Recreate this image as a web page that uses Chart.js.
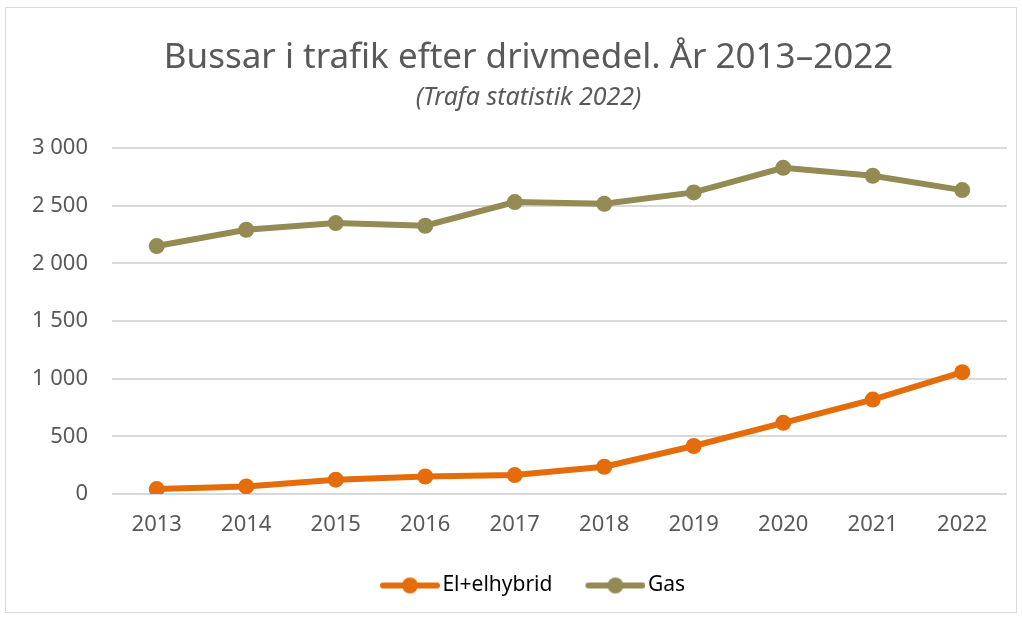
<!DOCTYPE html>
<html>
<head>
<meta charset="utf-8">
<script src="https://cdn.jsdelivr.net/npm/chart.js@4/dist/chart.umd.min.js"></script>
<style>
    html, body { margin: 0; padding: 0; background: #fff; }
    #frame { position: absolute; left: 5px; top: 7px; width: 1010px; height: 604px; border: 1px solid #d9d9d9; }
    #wrap { position: absolute; left: 0; top: 0; width: 1022px; height: 619px; }
</style>
</head>
<body>
<div id="frame"></div>
<div id="wrap"><canvas id="chart" width="1022" height="619"></canvas></div>
<script>
// Data
const years = ['2013', '2014', '2015', '2016', '2017', '2018', '2019', '2020', '2021', '2022'];
const elhybrid = [43, 66, 124, 152, 164, 236, 416, 617, 819, 1056];
const gas = [2150, 2291, 2349, 2326, 2531, 2516, 2615, 2828, 2759, 2635];
const seriesNames = ['El+elhybrid', 'Gas'];
const seriesColors = ['#e46c0a', '#948a54'];

const textColor = '#595959';
const fontFamily = '"Noto Sans", sans-serif';

// legend marker: a short line with a dot in the middle,
// shifted right inside the image so the label sits close to it
function legendMarker(color) {
    const c = document.createElement('canvas');
    c.width = 76;
    c.height = 18;
    const ctx = c.getContext('2d');
    ctx.strokeStyle = color;
    ctx.lineWidth = 6;
    ctx.lineCap = 'round';
    ctx.beginPath();
    ctx.moveTo(19, 9);
    ctx.lineTo(73, 9);
    ctx.stroke();
    ctx.fillStyle = color;
    ctx.beginPath();
    ctx.arc(46, 9, 8, 0, Math.PI * 2);
    ctx.fill();
    return c;
}

// title, subtitle and legend sit a bit right of the canvas centre in the original
const shiftBlocks = {
    id: 'shiftBlocks',
    afterLayout(chart) {
        chart.boxes.forEach((b) => {
            if (b.axis === undefined && (b.position === 'top' || b.position === 'bottom')) {
                b.left += 25;
                b.right += 25;
            }
        });
    }
};

const makeSet = (i, data) => ({
    label: seriesNames[i],
    data,
    borderColor: seriesColors[i],
    backgroundColor: seriesColors[i],
    borderWidth: 6,
    pointRadius: 8,
    pointHoverRadius: 8,
    pointBorderWidth: 0,
    tension: 0
});

new Chart(document.getElementById('chart'), {
    type: 'line',
    data: {
        labels: years,
        datasets: [makeSet(0, elhybrid), makeSet(1, gas)]
    },
    plugins: [shiftBlocks],
    options: {
        responsive: false,
        animation: false,
        layout: { padding: { left: 0, right: 15, top: 0, bottom: 13 } },
        plugins: {
            title: {
                display: true,
                text: 'Bussar i trafik efter drivmedel. År 2013–2022',
                color: textColor,
                font: { family: fontFamily, size: 35, weight: 'normal', lineHeight: 1.2 },
                padding: { top: 37, bottom: 4 }
            },
            subtitle: {
                display: true,
                text: '(Trafa statistik 2022)',
                color: textColor,
                font: { family: fontFamily, size: 25, style: 'italic', lineHeight: 1.2 },
                padding: { top: 0, bottom: 35 }
            },
            legend: {
                position: 'bottom',
                labels: {
                    color: textColor,
                    font: { family: fontFamily, size: 21 },
                    usePointStyle: true,
                    pointStyleWidth: 60,
                    padding: 25,
                    generateLabels: (chart) => chart.data.datasets.map((ds, i) => ({
                        text: ds.label,
                        pointStyle: legendMarker(ds.borderColor),
                        fillStyle: ds.borderColor,
                        strokeStyle: ds.borderColor,
                        lineWidth: 0,
                        hidden: false,
                        datasetIndex: i
                    }))
                }
            },
            tooltip: { enabled: false }
        },
        scales: {
            x: {
                offset: true,
                grid: { display: false, drawTicks: false },
                border: { display: false },
                ticks: { color: textColor, font: { family: fontFamily, size: 22 }, padding: 18 },
                afterFit: (s) => { s.height = 56; }
            },
            y: {
                min: 0,
                max: 3000,
                grid: { color: '#d9d9d9', lineWidth: 2, drawTicks: false },
                border: { display: false },
                ticks: {
                    stepSize: 500,
                    color: textColor,
                    font: { family: fontFamily, size: 22 },
                    padding: 24,
                    callback: (v) => String(v).replace(/\B(?=(\d{3})+(?!\d))/g, ' ')
                },
                afterFit: (s) => { s.width = 112; }
            }
        }
    }
});
</script>
</body>
</html>
